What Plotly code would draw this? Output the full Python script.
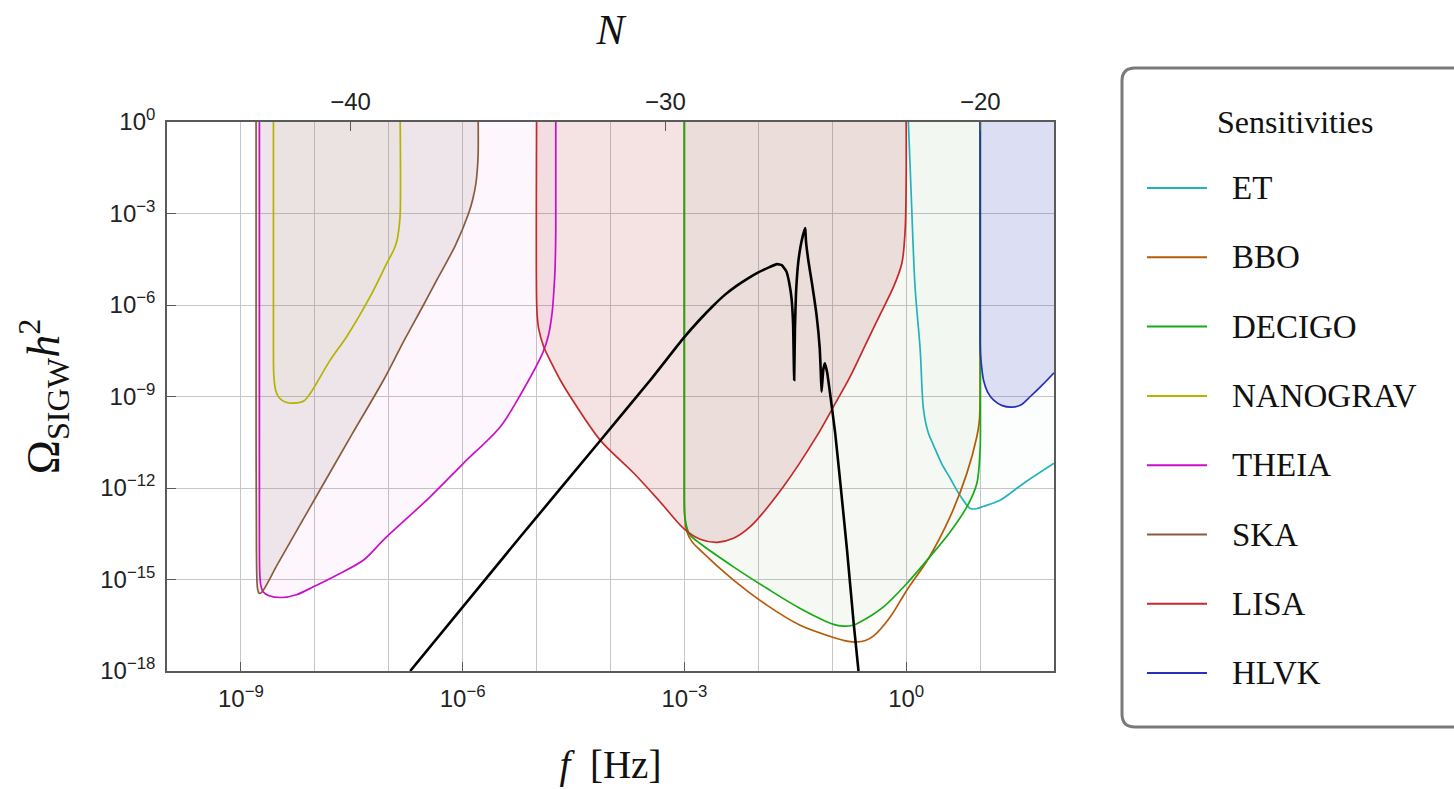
import plotly.graph_objects as go

# ---------------- data: log10(f/Hz) and log10(Omega h^2) ----------------
ET_logf = [0.03, 0.07, 0.12, 0.19, 0.235, 0.30, 0.37, 0.48, 0.595, 0.73, 0.866, 0.95, 1.05, 1.27, 1.587, 2.0]
ET_logO = [0.0, -2.5, -5.4, -7.47, -9.44, -10.2, -10.6, -11.2, -11.68, -12.25, -12.67, -12.68, -12.6, -12.4, -11.85, -11.19]

BBO_logf = [-3.0, -3.0, -2.995, -2.97, -2.90, -2.787, -2.336, -1.885, -1.434, -0.983, -0.80, -0.667, -0.55, -0.44,
            -0.216, 0.009, 0.302, 0.595, 0.821, 0.956, 0.99, 1.0, 1.0]
BBO_logO = [0.0, -12.3, -12.9, -13.4, -13.75, -14.04, -15.02, -15.84, -16.5, -16.9, -17.02, -17.05, -17.0, -16.85,
            -16.23, -15.35, -14.31, -12.94, -11.52, -10.32, -9.8, -9.0, 0.0]

DECIGO_logf = [-3.003, -3.003, -2.995, -2.96, -2.922, -2.787, -2.336, -1.885, -1.434, -0.983, -0.848, -0.72, -0.622,
               -0.47, -0.307, 0.009, 0.302, 0.595, 0.821, 0.956, 1.0, 1.005, 1.005]
DECIGO_logO = [0.0, -12.4, -12.95, -13.35, -13.545, -13.82, -14.585, -15.29, -15.95, -16.47, -16.53, -16.5, -16.39,
               -16.18, -15.9, -15.13, -14.31, -13.44, -12.62, -11.85, -10.75, -9.66, 0.0]

NANOGRAV_logf = [-8.56, -8.56, -8.555, -8.53, -8.48, -8.40, -8.29, -8.15, -8.06, -7.79, -7.57, -7.25, -7.025,
                 -6.93, -6.89, -6.86, -6.845, -6.845]
NANOGRAV_logO = [0.0, -7.5, -8.3, -8.8, -9.05, -9.18, -9.22, -9.15, -8.89, -7.80, -7.04, -5.72, -4.63,
                 -4.18, -3.9, -3.45, -3.0, 0.0]

THEIA_logf = [-8.75, -8.75, -8.745, -8.73, -8.70, -8.62, -8.445, -8.25, -8.02, -7.7, -7.34, -7.07, -6.44, -5.99,
              -5.49, -5.22, -4.91, -4.84, -4.79, -4.765, -4.75, -4.74, -4.74]
THEIA_logO = [0.0, -13.0, -14.8, -15.2, -15.4, -15.53, -15.59, -15.5, -15.24, -14.85, -14.36, -13.7, -12.29, -11.19,
              -9.99, -8.95, -7.53, -7.0, -6.26, -5.5, -4.8, -3.5, 0.0]

SKA_logf = [-8.795, -8.795, -8.79, -8.785, -8.775, -8.755, -8.72, -8.5, -8.0, -7.5, -7.07, -6.8, -6.53, -6.35,
            -6.1, -5.92, -5.86, -5.82, -5.80, -5.79, -5.79]
SKA_logO = [0.0, -10.0, -14.0, -14.9, -15.3, -15.45, -15.42, -14.48, -12.36, -10.25, -8.46, -7.2, -6.0, -5.18,
            -4.05, -3.0, -2.5, -2.0, -1.5, -1.0, 0.0]

LISA_logf = [-5.0, -5.0, -4.99, -4.97, -4.905, -4.80, -4.68, -4.545, -4.14, -3.69, -3.33, -3.0, -2.787, -2.56,
             -2.336, -2.11, -1.66, -1.21, -0.983, -0.758, -0.53, -0.35, -0.17, -0.058, -0.0135, 0.0, 0.0]
LISA_logO = [0.0, -5.8, -6.4, -6.8, -7.36, -7.9, -8.46, -9.0, -10.43, -11.5, -12.45, -13.35, -13.68, -13.78,
             -13.65, -13.27, -11.95, -10.3, -9.33, -8.35, -7.2, -6.3, -5.4, -4.63, -3.53, -1.9, 0.0]

HLVK_logf = [1.0, 1.0, 1.005, 1.02, 1.046, 1.10, 1.18, 1.30, 1.43, 1.55, 1.68, 1.85, 2.0]
HLVK_logO = [0.0, -7.0, -7.6, -8.0, -8.46, -8.85, -9.11, -9.3, -9.35, -9.28, -9.0, -8.6, -8.22]

SIGW_logf = [-6.71, -5.22, -4.14, -3.46, -3.01, -2.8, -2.6, -2.45, -2.3, -2.15, -2.0, -1.85, -1.75, -1.68, -1.62,
             -1.58, -1.55, -1.53, -1.515, -1.505, -1.49, -1.46, -1.43, -1.40, -1.38, -1.365, -1.36, -1.355, -1.32,
             -1.275, -1.21, -1.17, -1.155, -1.145, -1.12, -1.10, -1.07, -1.03, -0.96, -0.89, -0.80, -0.71, -0.645]
SIGW_logO = [-18.0, -13.6, -10.45, -8.46, -7.08, -6.5, -6.0, -5.66, -5.38, -5.14, -4.93, -4.76, -4.66, -4.7, -4.9,
             -5.3, -5.8, -6.6, -8.46, -6.8, -5.6, -4.6, -4.1, -3.75, -3.58, -3.48, -3.7, -3.92, -4.6,
             -5.28, -6.38, -7.4, -8.2, -8.84, -8.1, -7.91, -8.2, -8.89, -10.21, -11.85, -14.04, -16.44, -18.0]

names = ["ET", "BBO", "DECIGO", "NANOGRAV", "THEIA", "SKA", "LISA", "HLVK"]
curves = {
    "ET": (ET_logf, ET_logO), "BBO": (BBO_logf, BBO_logO), "DECIGO": (DECIGO_logf, DECIGO_logO),
    "NANOGRAV": (NANOGRAV_logf, NANOGRAV_logO), "THEIA": (THEIA_logf, THEIA_logO),
    "SKA": (SKA_logf, SKA_logO), "LISA": (LISA_logf, LISA_logO), "HLVK": (HLVK_logf, HLVK_logO),
}

N_tick_vals = [-40, -30, -20]
N_tick_text = ["\u221240", "\u221230", "\u221220"]
x_tick_exps = [-9, -6, -3, 0]
y_tick_exps = [0, -3, -6, -9, -12, -15, -18]

# ---------------- styles ----------------
line_colors = {
    "ET": "#22b3bb", "BBO": "#b65a08", "DECIGO": "#16ab16", "NANOGRAV": "#b3b300",
    "THEIA": "#c90fc9", "SKA": "#8a5c3e", "LISA": "#c42a2a", "HLVK": "#2a2fb8",
}
fill_colors = {
    "ET": "rgba(34,179,187,0.015)", "BBO": "rgba(182,90,8,0.012)", "DECIGO": "rgba(20,140,20,0.04)",
    "NANOGRAV": "rgba(179,179,0,0.03)", "THEIA": "rgba(201,15,201,0.03)", "SKA": "rgba(120,105,90,0.12)",
    "LISA": "rgba(180,40,50,0.13)", "HLVK": "rgba(40,50,180,0.15)",
}
draw_order = ["SKA", "THEIA", "NANOGRAV", "LISA", "BBO", "DECIGO", "ET", "HLVK"]

X_RANGE = [-10, 2]
Y_RANGE = [-18, 0]
N_RANGE = [-45.83, -17.66]
FAR_TOP = 10 ** 2
FAR_RIGHT = 10 ** 3

# layout geometry (pixels)
W, H = 1454, 789
ML, MR, MT, MB = 167, 400, 122, 118
PW, PH = W - ML - MR, H - MT - MB


def px_x(px):
    return (px - ML) / PW


def px_y(py):
    return (H - MB - py) / PH


fig = go.Figure()

# fills
for nm in draw_order:
    lf, lo = curves[nm]
    xs = [10 ** v for v in lf]
    ys = [10 ** v for v in lo]
    if lo[-1] < Y_RANGE[1]:  # curve leaves through the right edge
        xs = xs + [FAR_RIGHT, FAR_RIGHT, xs[0]]
        ys = ys + [ys[-1], FAR_TOP, FAR_TOP]
    else:
        xs = xs + [xs[-1], xs[0]]
        ys = ys + [FAR_TOP, FAR_TOP]
    fig.add_trace(go.Scatter(x=xs, y=ys, mode="lines", line=dict(width=0, shape="spline", smoothing=0.9),
                             fill="toself", fillcolor=fill_colors[nm], showlegend=False, hoverinfo="skip"))

# sensitivity curves
for nm in names:
    lf, lo = curves[nm]
    fig.add_trace(go.Scatter(x=[10 ** v for v in lf], y=[10 ** v for v in lo], mode="lines",
                             name=nm, showlegend=False,
                             line=dict(color=line_colors[nm], width=1.7, shape="spline", smoothing=0.9)))

# SIGW spectrum
fig.add_trace(go.Scatter(x=[10 ** v for v in SIGW_logf], y=[10 ** v for v in SIGW_logO], mode="lines",
                         line=dict(color="black", width=2.6, shape="spline", smoothing=0.4), showlegend=False))

# helper so that the top (N) axis is rendered
fig.add_trace(go.Scatter(x=N_tick_vals, y=[None] * len(N_tick_vals), xaxis="x2", mode="markers",
                         showlegend=False, hoverinfo="skip"))

tickfont = dict(family="Liberation Sans", size=24, color="#222")
axis_line = "#5a5a5a"
grid_c = "#c6c6c6"

fig.update_layout(
    width=W, height=H,
    margin=dict(l=ML, r=MR, t=MT, b=MB, autoexpand=False),
    paper_bgcolor="white", plot_bgcolor="white", showlegend=False,
    xaxis=dict(type="log", range=X_RANGE,
               tickvals=[10 ** e for e in x_tick_exps],
               ticktext=["10<sup>%s</sup>" % (str(e).replace("-", "\u2212")) for e in x_tick_exps],
               ticks="inside", ticklen=9, tickwidth=1.3, tickcolor=axis_line, ticklabelstandoff=5,
               showline=True, linecolor=axis_line, linewidth=1.6, mirror=True,
               showgrid=True, gridcolor=grid_c, gridwidth=1,
               minor=dict(tickmode="array", tickvals=[10 ** e for e in range(X_RANGE[0], X_RANGE[1] + 1)],
                          showgrid=True, gridcolor=grid_c, gridwidth=1, ticks=""),
               tickfont=tickfont, zeroline=False,
               title=dict(text="<i>f</i>  [Hz]", font=dict(family="Liberation Serif", size=39, color="#111"),
                          standoff=40)),
    yaxis=dict(type="log", range=Y_RANGE,
               tickvals=[10 ** e for e in y_tick_exps],
               ticktext=["10<sup>%s</sup>" % (str(e).replace("-", "\u2212")) for e in y_tick_exps],
               ticks="inside", ticklen=9, tickwidth=1.3, tickcolor=axis_line, ticklabelstandoff=5,
               showline=True, linecolor=axis_line, linewidth=1.6, mirror=True,
               showgrid=True, gridcolor=grid_c, gridwidth=1,
               tickfont=tickfont, zeroline=False,
               title=dict(text="\u03a9<sub>SIGW</sub><i>h</i><sup>2</sup>",
                          font=dict(family="Liberation Serif", size=46, color="#111"), standoff=26)),
    xaxis2=dict(overlaying="x", side="top", anchor="y", range=N_RANGE,
                tickvals=N_tick_vals, ticktext=N_tick_text,
                ticks="inside", ticklen=9, tickwidth=1.3, tickcolor=axis_line, ticklabelstandoff=6,
                showline=False, showgrid=False, zeroline=False, tickfont=tickfont,
                title=dict(text="<i>N</i>", font=dict(family="Liberation Serif", size=42, color="#111"),
                           standoff=30)),
)

# ---------------- legend (drawn as shapes + text in paper coordinates) ----------------
LEG_FIRST_Y, LEG_STEP = 188, 69.3
LEG_LINE_X0, LEG_LINE_X1, LEG_TEXT_X = 1147, 1207, 1230
fig.add_annotation(text="Sensitivities", xref="paper", yref="paper", x=px_x(1295), y=px_y(122),
                   xanchor="center", yanchor="middle", showarrow=False,
                   font=dict(family="Liberation Serif", size=32, color="#111"))
for i, nm in enumerate(names):
    yy = px_y(LEG_FIRST_Y + LEG_STEP * i)
    fig.add_shape(type="line", xref="paper", yref="paper", x0=px_x(LEG_LINE_X0), x1=px_x(LEG_LINE_X1),
                  y0=yy, y1=yy, line=dict(color=line_colors[nm], width=2))
    fig.add_annotation(text=nm, xref="paper", yref="paper", x=px_x(LEG_TEXT_X), y=yy,
                       xanchor="left", yanchor="middle", showarrow=False,
                       font=dict(family="Liberation Serif", size=33, color="#111"))

# rounded legend frame
x0, x1 = px_x(1122), px_x(1475)
y0, y1 = px_y(727), px_y(68)
rx, ry = 13 / PW, 13 / PH
path = (f"M{x0 + rx},{y1} L{x1 - rx},{y1} Q{x1},{y1} {x1},{y1 - ry} L{x1},{y0 + ry} Q{x1},{y0} {x1 - rx},{y0} "
        f"L{x0 + rx},{y0} Q{x0},{y0} {x0},{y0 + ry} L{x0},{y1 - ry} Q{x0},{y1} {x0 + rx},{y1} Z")
fig.add_shape(type="path", path=path, xref="paper", yref="paper",
              line=dict(color="#7a7a7a", width=3), fillcolor="rgba(0,0,0,0)")

fig.write_html("out.html")
